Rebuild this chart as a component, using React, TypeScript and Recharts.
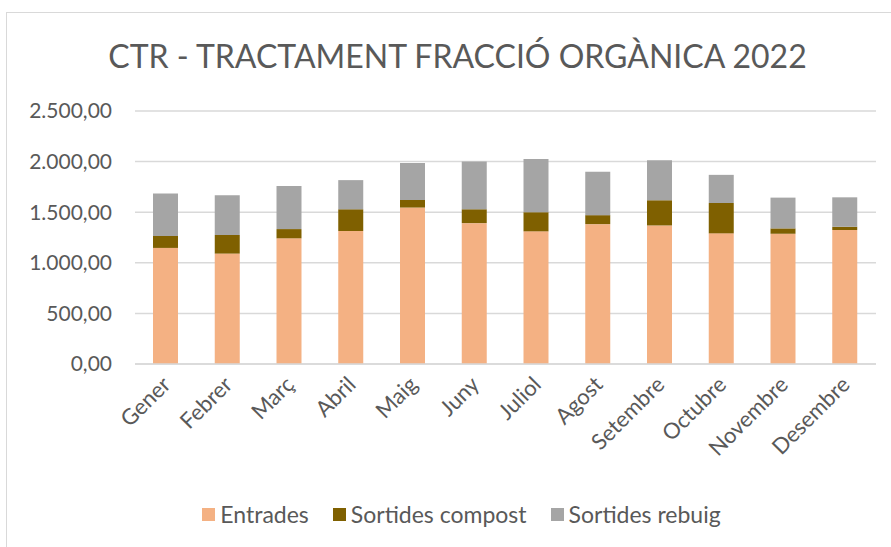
import React from 'react';
import { BarChart, Bar, XAxis, YAxis, CartesianGrid, Legend } from 'recharts';

const months = ['Gener', 'Febrer', 'Març', 'Abril', 'Maig', 'Juny', 'Juliol', 'Agost', 'Setembre', 'Octubre', 'Novembre', 'Desembre'];
const entrades = [1147, 1091, 1242, 1314, 1546, 1392, 1311, 1382, 1369, 1291, 1287, 1324];
const compost = [118, 184, 91, 215, 75, 137, 189, 89, 249, 300, 53, 32];
const rebuig = [421, 392, 425, 288, 366, 471, 526, 428, 395, 278, 304, 291];
const yTicks = [0, 500, 1000, 1500, 2000, 2500];

const series = [
  { key: 'entrades', name: 'Entrades', color: '#F4B183' },
  { key: 'compost', name: 'Sortides compost', color: '#7F6000' },
  { key: 'rebuig', name: 'Sortides rebuig', color: '#A5A5A5' },
];

const data = months.map((m, i) => ({ m, entrades: entrades[i], compost: compost[i], rebuig: rebuig[i] }));

const FONT = 'Lato, "Open Sans", sans-serif';
const TEXT = '#595959';

function fmt(v: number) {
  // 2500 -> 2.500,00
  const s = Math.round(v).toString().replace(/\B(?=(\d{3})+(?!\d))/g, '.');
  return s + ',00';
}

function MonthTick(props: any) {
  const { x, y, payload } = props;
  return (
    <text x={x + 6} y={y + 14} transform={`rotate(-45 ${x + 6} ${y + 14})`} textAnchor="end"
      fill={TEXT} fontSize={22} fontFamily={FONT}>
      {payload.value}
    </text>
  );
}

function LegendBox() {
  return (
    <div style={{ display: 'flex', justifyContent: 'center', gap: 24, paddingLeft: 32, fontFamily: FONT, fontSize: 23, color: TEXT }}>
      {series.map(s => (
        <span key={s.key} style={{ display: 'flex', alignItems: 'center' }}>
          <span style={{ width: 13, height: 13, background: s.color, marginRight: 5, display: 'inline-block' }} />
          {s.name}
        </span>
      ))}
    </div>
  );
}

export default function App() {
  return (
    <div style={{ position: 'absolute', left: 0, top: 0, width: 891, height: 547, overflow: 'hidden', background: '#fff' }}>
      <div style={{ position: 'absolute', left: 6, top: 12, width: 900, height: 600, border: '1px solid #D9D9D9' }} />
      <div style={{ position: 'absolute', left: 12, top: 36, width: 891, textAlign: 'center', fontFamily: FONT, fontSize: 32, color: TEXT }}>
        CTR - TRACTAMENT FRACCIÓ ORGÀNICA 2022
      </div>
      <div style={{ position: 'absolute', left: 0, top: 0 }}>
        <BarChart width={891} height={547} data={data} margin={{ top: 111, right: 15, left: 0, bottom: 54 }} barSize={25}>
          <CartesianGrid vertical={false} stroke="#D9D9D9" strokeWidth={1.5} />
          <XAxis dataKey="m" interval={0} height={101} tick={<MonthTick />} tickLine={false}
            axisLine={{ stroke: '#D9D9D9', strokeWidth: 1.5 }} />
          <YAxis width={135} domain={[0, 2500]} ticks={yTicks} tickFormatter={fmt} axisLine={false} tickLine={false}
            tickSize={0} tickMargin={23} tick={{ fill: TEXT, fontSize: 21, fontFamily: FONT }} />
          <Legend verticalAlign="bottom" content={<LegendBox />} wrapperStyle={{ position: 'absolute', top: 500, left: 0, width: 891 }} />
          {series.map(s => (
            <Bar key={s.key} dataKey={s.key} name={s.name} stackId="a" fill={s.color} isAnimationActive={false} />
          ))}
        </BarChart>
      </div>
    </div>
  );
}
